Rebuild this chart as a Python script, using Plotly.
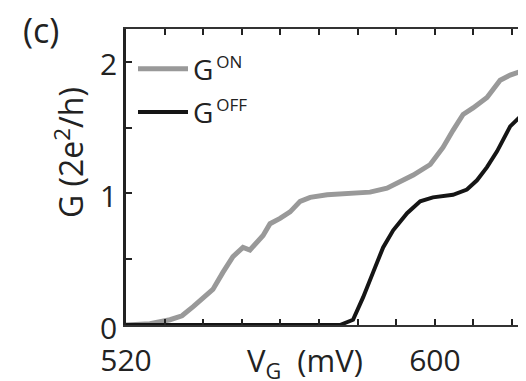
import plotly.graph_objects as go

# G_ON (grey) trace: gate voltage (mV) and conductance (2e^2/h)
v_on = [520.0, 526.2, 531.4, 534.5, 537.4, 539.9, 542.5, 545.1, 547.7, 550.3, 552.1,
        555.5, 557.3, 559.9, 562.5, 565.1, 567.7, 572.1, 577.3, 583.2, 587.6, 591.0,
        594.4, 598.8, 602.1, 604.7, 607.3, 609.9, 613.5, 616.9, 619.5, 623.4, 625.0]
g_on = [0.0, 0.01, 0.04, 0.07, 0.14, 0.21, 0.27, 0.40, 0.52, 0.59, 0.57,
        0.68, 0.77, 0.81, 0.86, 0.94, 0.97, 0.99, 1.00, 1.01, 1.04, 1.09,
        1.14, 1.22, 1.35, 1.48, 1.60, 1.65, 1.73, 1.86, 1.90, 1.94, 1.95]

# G_OFF (black) trace
v_off = [520.0, 575.4, 578.8, 581.4, 584.0, 586.6, 589.2, 592.8, 596.2, 599.5, 604.7,
         608.3, 610.9, 613.5, 616.1, 619.5, 623.4, 625.0]
g_off = [0.0, 0.0, 0.04, 0.21, 0.40, 0.59, 0.72, 0.85, 0.94, 0.97, 0.99,
         1.03, 1.10, 1.20, 1.32, 1.51, 1.62, 1.66]

x_tickvals = [520, 600]
x_ticktext = ["520", "600"]
y_tickvals = [0, 1, 2]
y_ticktext = ["0", "1", "2"]

FONT = "Open Sans"
OFF = 8  # default page body margin
W, H = 526 - OFF, 381 - OFF
# target page pixels: plot left 126, top 29, bottom 325, right 526
L, R, T, B = 126 - OFF, 0, 29 - OFF, 381 - 325


def px(x):  # page pixel -> paper x
    return (x - OFF - L) / (W - L - R)


def py(y):  # page pixel -> paper y
    return (H - B - (y - OFF)) / (H - T - B)


SUP = '<sup><span style="font-size:17px">{}</span></sup>'

fig = go.Figure()
fig.add_trace(go.Scatter(x=v_on, y=g_on, mode="lines", name="G" + SUP.format("\u2009ON"),
                         legendgroup="on",
                         line=dict(color="#999999", width=5)))
fig.add_trace(go.Scatter(x=v_off, y=g_off, mode="lines", name="G" + SUP.format("\u2009OFF"),
                         legendgroup="off",
                         line=dict(color="#151515", width=4)))

fig.update_layout(
    template="none",
    width=W, height=H,
    margin=dict(l=L, r=R, t=T, b=B, pad=0, autoexpand=False),
    paper_bgcolor="white", plot_bgcolor="white",
    font=dict(family=FONT, size=28, color="#222222"),
    showlegend=True,
    legend=dict(x=px(133), y=py(44), xanchor="left", yanchor="top",
                bgcolor="rgba(0,0,0,0)", font=dict(size=28, family=FONT),
                itemwidth=50, traceorder="grouped", tracegroupgap=4, borderwidth=0),
    xaxis=dict(range=[520, 623.6], tickvals=x_tickvals, ticktext=x_ticktext,
               automargin=False,
               ticks="inside", ticklen=6, tickwidth=1.5, tickcolor="#222222",
               minor=dict(dtick=10, tick0=520, ticks="inside", ticklen=6,
                          tickwidth=1.5, tickcolor="#222222"),
               showline=True, linecolor="#333333", linewidth=2, mirror="ticks",
               showgrid=False, zeroline=False, ticklabelstandoff=8,
               tickfont=dict(size=30, family=FONT, color="#222222")),
    yaxis=dict(range=[0, 2.25], tickvals=y_tickvals, ticktext=y_ticktext,
               automargin=False, ticklabelshift=3,
               ticks="inside", ticklen=6, tickwidth=1.5, tickcolor="#222222",
               minor=dict(dtick=0.5, tick0=0, ticks="inside", ticklen=6,
                          tickwidth=1.5, tickcolor="#222222"),
               showline=True, linecolor="#222222", linewidth=2.5, mirror=False,
               showgrid=False, zeroline=False,
               tickfont=dict(size=30, family=FONT, color="#222222")),
    annotations=[
        dict(text="V<sub>G</sub>\u00a0\u00a0(mV)", xref="paper", yref="paper",
             x=px(305), y=py(362), xanchor="center", yanchor="middle",
             showarrow=False, font=dict(size=31, family=FONT, color="#222222")),
        dict(text="G (2e<sup>2</sup>/h)", xref="paper", yref="paper",
             x=px(69), y=py(153), xanchor="center", yanchor="middle", textangle=-90,
             showarrow=False, font=dict(size=32, family=FONT, color="#222222")),
        dict(text="(c)", xref="paper", yref="paper",
             x=px(41), y=py(30), xanchor="center", yanchor="middle",
             showarrow=False, font=dict(size=34, family=FONT, color="#222222")),
    ],
)

fig.write_html("out.html")
